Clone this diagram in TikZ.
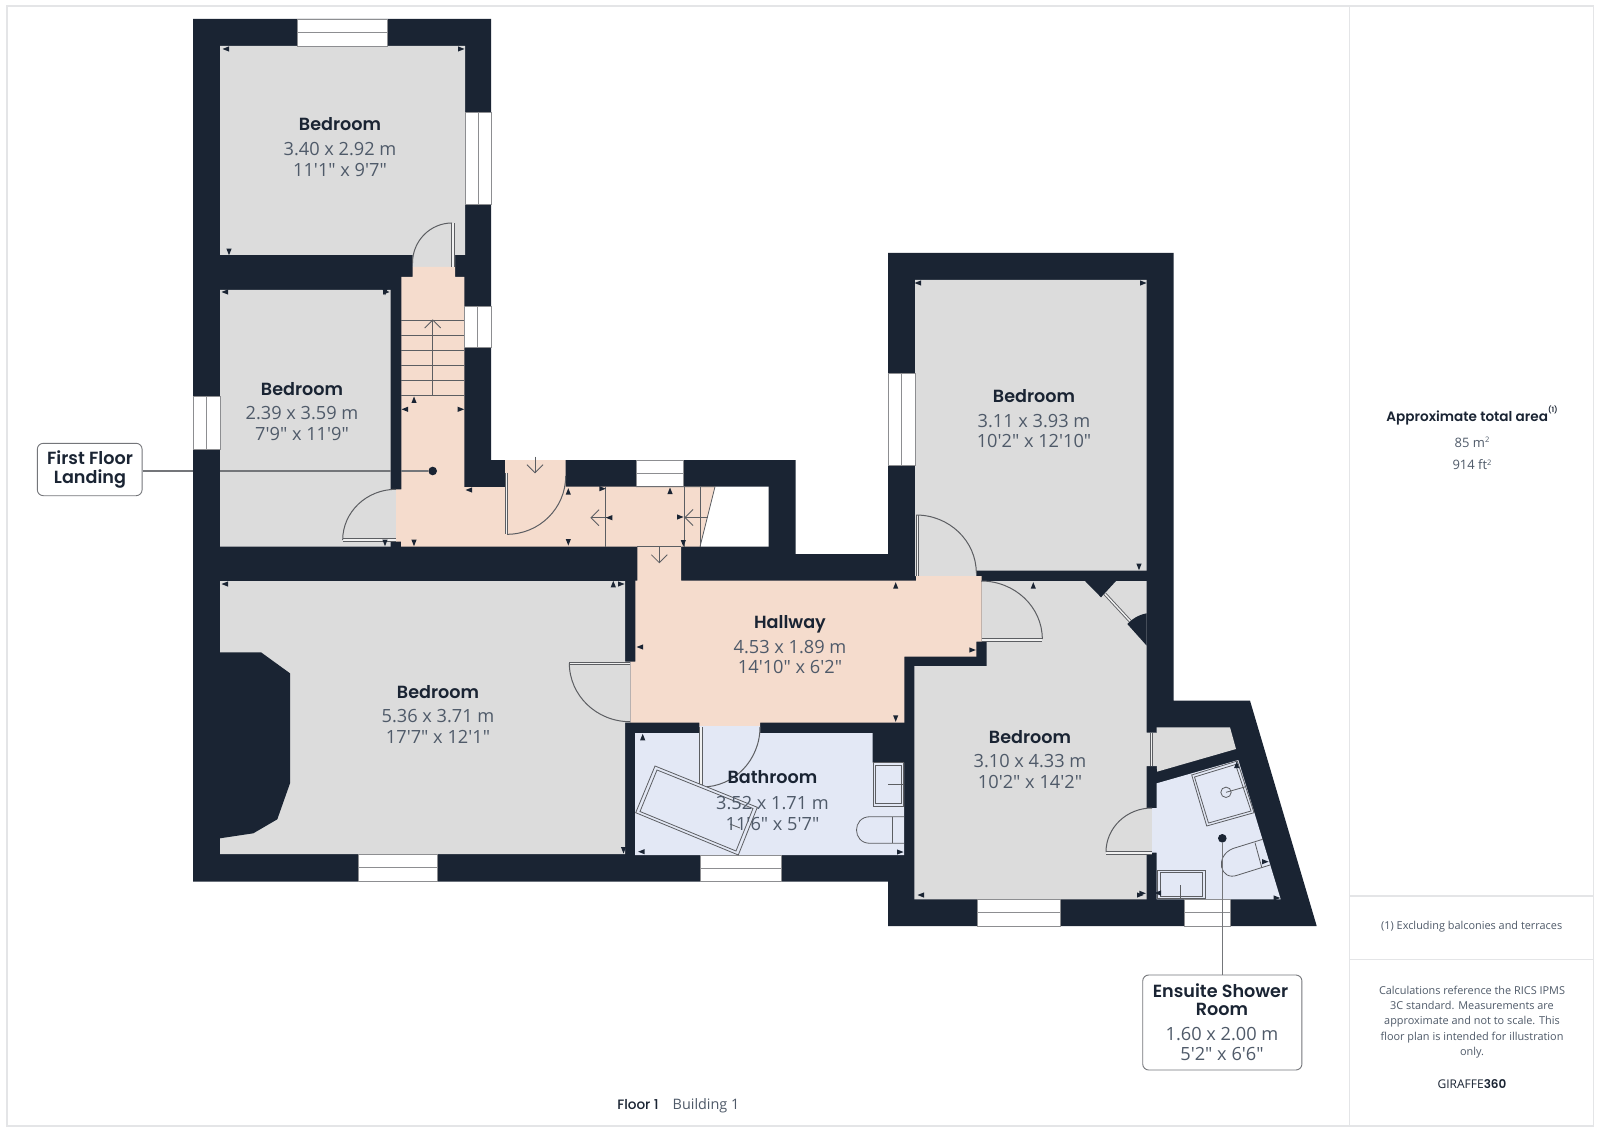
\documentclass[tikz,border=0pt]{standalone}
\usepackage{fontspec}
\setmainfont{Open Sans}
\newfontfamily\dm{Open Sans}
\newfontfamily\ttl{Poppins SemiBold}
\newfontfamily\med{Poppins Medium}
\definecolor{wall}{HTML}{1A2433}
\definecolor{gry}{HTML}{DCDCDC}
\definecolor{pnk}{HTML}{F5DCCD}
\definecolor{blu}{HTML}{E3E8F5}
\definecolor{ink}{HTML}{1A2433}
\definecolor{sub}{HTML}{4F5A69}
\definecolor{fix}{HTML}{5C5E62}
\definecolor{frm}{HTML}{E4E5E7}
\tikzset{
  x=0.5pt,y=-0.5pt,
  fixline/.style={draw=fix,line width=0.4pt},
  dbl/.style={draw=fix,double=white!60!gry,double distance=0.7pt,line width=0.45pt},
  winline/.style={draw=fix!70,line width=0.45pt,fill=white},
  title/.style={text=ink,font=\ttl\fontsize{8.8}{11}\selectfont,inner sep=0pt,anchor=center,text height=7pt,text depth=0pt},
  dims/.style={text=sub,font=\dm\fontsize{9.1}{11}\selectfont,inner sep=0pt,anchor=center,text height=7.6pt,text depth=0pt},
  small/.style={text=sub,font=\fontsize{6.5}{8}\selectfont,inner sep=0pt,anchor=center},
  note/.style={text=sub,font=\fontsize{5.45}{7}\selectfont,inner sep=0pt,anchor=center},
  callout/.style={draw=fix!85,line width=0.45pt,rounded corners=3pt,fill=white,inner sep=0pt},
  leader/.style={draw=fix!85,line width=0.7pt},
  pin/.style={circle,fill=wall,inner sep=0pt,minimum size=4.3pt},
}
% swing: centre, start offset, end offset
\newcommand\swing[6]{\draw[fixline,line width=0.5pt] ({#1+#3},{#2+#4}) .. controls ({#1+#3+0.552*#5},{#2+#4+0.552*#6}) and ({#1+#5+0.552*#3},{#2+#6+0.552*#4}) .. ({#1+#5},{#2+#6});}
% window: x1 y1 x2 y2, with mid line
\newcommand\winH[4]{\draw[winline] (#1,#2) rectangle (#3,#4); \draw[winline] (#1,{(#2+#4)/2}) -- (#3,{(#2+#4)/2});}
\newcommand\winV[4]{\draw[winline] (#1,#2) rectangle (#3,#4); \draw[winline] ({(#1+#3)/2},#2) -- ({(#1+#3)/2},#4);}
% dimension markers
\newcommand\mL[2]{\fill[wall] (#1-3.5,#2) -- (#1+3,#2-2.6) -- (#1+3,#2+2.6) -- cycle;}
\newcommand\mR[2]{\fill[wall] (#1+3.5,#2) -- (#1-3,#2-2.6) -- (#1-3,#2+2.6) -- cycle;}
\newcommand\mU[2]{\fill[wall] (#1,#2-3.5) -- (#1-2.6,#2+3) -- (#1+2.6,#2+3) -- cycle;}
\newcommand\mD[2]{\fill[wall] (#1,#2+3.5) -- (#1-2.6,#2-3) -- (#1+2.6,#2-3) -- cycle;}
% chevron arrows: U/D take x, y-from, y-to; L takes x-from, y, x-to
\newcommand\arrU[3]{\draw[fixline] (#1,#2) -- (#1,#3); \draw[fixline] (#1-8,#3+8) -- (#1,#3) -- (#1+8,#3+8);}
\newcommand\arrD[3]{\draw[fixline] (#1,#2) -- (#1,#3); \draw[fixline] (#1-8,#3-8) -- (#1,#3) -- (#1+8,#3-8);}
\newcommand\arrL[3]{\draw[fixline] (#1,#2) -- (#3,#2); \draw[fixline] (#3+8,#2-8) -- (#3,#2) -- (#3+8,#2+8);}
\begin{document}
\begin{tikzpicture}
\useasboundingbox (0,0) rectangle (1600,1128);
\fill[white] (0,0) rectangle (1600,1128);
% page frame
\draw[frm,line width=0.6pt] (7,6) rectangle (1593.5,1126);
\draw[frm,line width=0.6pt] (1349.5,6) -- (1349.5,1126);
\draw[frm,line width=0.6pt] (1349.5,896) -- (1593.5,896);
\draw[frm,line width=0.6pt] (1349.5,959.5) -- (1593.5,959.5);

% wall silhouette
\fill[wall] (193,19) -- (491,19) -- (491,460) -- (795.7,460) -- (795.7,554) -- (888,554) -- (888,253) -- (1173.5,253) -- (1173.5,700.7) -- (1250,700.7) -- (1316.7,926) -- (888,926) -- (888,881.7) -- (193,881.7) -- cycle;

% rooms
\fill[gry] (220,46) -- (465,46) -- (465,255) -- (455,255) -- (455,267) -- (412.5,267) -- (412.5,255) -- (220,255) -- cycle;
\fill[gry] (220,290) -- (390.7,290) -- (390.7,489.3) -- (396,489.3) -- (396,541.7) -- (390.7,541.7) -- (390.7,546.7) -- (220,546.7) -- cycle;
\fill[gry] (220,581) -- (625,581) -- (625,661.7) -- (630.5,661.7) -- (630.5,722.7) -- (625,722.7) -- (625,854) -- (220,854) -- cycle;
\fill[wall] (220,652.3) -- (261,652.3) -- (290,673.3) -- (290,783.3) -- (277.3,819.3) -- (253.3,833.3) -- (220,838.3) -- cycle;
\fill[gry] (915,280) -- (1146.7,280) -- (1146.7,570.7) -- (976.3,570.7) -- (976.3,576) -- (915,576) -- cycle;
\fill[gry] (981.7,581) -- (1146.7,581) -- (1146.7,732.7) -- (1157,732.7) -- (1157,766) -- (1146.7,766) -- (1146.7,808) -- (1152,808) -- (1152,852.7) -- (1146.7,852.7) -- (1146.7,899.3) -- (914.3,899.3) -- (914.3,666) -- (986.7,666) -- (986.7,641.7) -- (981.7,641.7) -- cycle;
\fill[gry] (1156.7,727.3) -- (1230,727.3) -- (1236,749) -- (1157,771.7) -- cycle;
% inner wall pieces of the lower right bedroom
\fill[wall] (1085,581) -- (1116,581) -- (1101,597.3) -- cycle;
\fill[wall] (1146.7,613.3) .. controls (1138,615) and (1132,619) .. (1127.3,624) -- (1146.7,645.7) -- cycle;

% hall and landing
\fill[pnk] (412.5,267) -- (455,267) -- (455,277) -- (464.3,277) -- (464.3,487) -- (505,487) -- (505,460) -- (565.7,460) -- (565.7,486.7) -- (715,486.7) -- (700,546.7) -- (681,546.7) -- (681,580.7) -- (916,580.7) -- (916,576) -- (981.7,576) -- (981.7,641.7) -- (976.3,641.7) -- (976.3,656.7) -- (904.3,656.7) -- (904.3,722.7) -- (760,722.7) -- (760,726) -- (699.3,726) -- (699.3,722.7) -- (630.5,722.7) -- (630.5,661.7) -- (635.3,661.7) -- (635.3,580.7) -- (637.3,580.7) -- (637.3,546.7) -- (401,546.7) -- (401,541.7) -- (396,541.7) -- (396,489.3) -- (401.3,489.3) -- (401.3,277) -- (412.5,277) -- cycle;
% stair void
\fill[white] (715,486.7) -- (768.7,486.7) -- (768.7,546.7) -- (700,546.7) -- cycle;

% bathroom and ensuite
\fill[blu] (635,733) -- (699.3,733) -- (699.3,726) -- (760,726) -- (760,733) -- (872.7,733) -- (872.7,762.7) -- (904,762.7) -- (904,855) -- (635,855) -- cycle;
\fill[blu] (1156.7,783.3) -- (1238.3,760) -- (1280.7,899.3) -- (1156.7,899.3) -- (1156.7,852.7) -- (1152,852.7) -- (1152,808) -- (1156.7,808) -- cycle;

% windows
\winH{297}{19}{387}{46}
\winV{465}{112}{491}{204}
\winV{464.3}{306.7}{491}{347.7}
\winV{193}{396}{220}{449.3}
\winH{636}{460}{683.3}{486.7}
\winV{888}{373.5}{915}{465.5}
\winH{358}{854}{437}{881.7}
\winH{700}{855}{781.7}{881.7}
\winH{977.5}{899.3}{1060}{926}
\winH{1184}{899.3}{1230.7}{926}

% stairs
\foreach \yy in {320,335,350,365.3,380.3,395.3} {\draw[fixline] (401.3,\yy) -- (464.3,\yy);}
\arrU{432.7}{395.3}{320}
\draw[fixline] (605.7,486.7) -- (605.7,546.7);
\draw[fixline] (684.7,486.7) -- (684.7,546.7);
\draw[fixline] (700,486.7) -- (700,546.7);
\draw[fixline] (636,486.7) -- (715,486.7) -- (700,546.7);
\draw[fixline] (637.3,546.7) -- (681,546.7);
\arrL{606.7}{517.7}{591}
\arrL{707.7}{517.5}{685}
\arrD{535}{456.7}{472.7}
\arrD{659.3}{547.3}{562.7}

% doors
\draw[dbl] (453,223.3) -- (453,266.7);
\swing{452}{263}{0}{-40}{-39.5}{0}
\draw[dbl] (342.7,540) -- (396,540);
\swing{396}{540}{-53.3}{0}{0}{-50.7}
\draw[dbl] (506.3,472.7) -- (506.3,534.3);
\swing{507}{476}{0}{58.3}{58.7}{0}
\draw[dbl] (569.3,663.5) -- (630,663.5);
\swing{630}{663}{-60.7}{0}{0}{58.7}
\draw[dbl] (701,727) -- (701,787);
\swing{702}{727}{0}{60}{58}{0}
\draw[dbl] (917.7,515) -- (917.7,576);
\swing{916}{573}{0}{-58}{60.3}{0}
\draw[dbl] (981.7,640) -- (1042.3,640);
\swing{981}{639}{61.3}{0}{0}{-58}
\draw[dbl] (1106,853) -- (1152,853);
\swing{1152}{852}{-46}{0}{0}{-44}
\draw[dbl] (1105,594) -- (1130,621);
\draw[dbl] (1151.5,732.7) -- (1151.5,766);

% bathroom fixtures
\draw[fixline,fill=blu] (655,766) -- (757.3,807.3) -- (738.3,855) -- (635.7,812.7) -- cycle;
\draw[fixline] (657,770) -- (753,808.5) -- (736,851) -- (640,811.5) -- cycle;
\draw[fixline] (730,824) -- (740,828);
\draw[fixline,fill=blu] (873.3,762.7) rectangle (903.3,806);
\draw[fixline] (875.8,765) rectangle (901,803.5);
\draw[fixline] (888.3,784) -- (903.3,784);
\draw[fixline] (904,816.7) -- (870,816.7) .. controls (852,816.7) and (852,843.3) .. (870,843.3) -- (904,843.3);
\draw[fixline] (892.7,816.7) -- (892.7,843.3);

% ensuite fixtures
\draw[fixline] (1191.7,775) -- (1237.3,761) -- (1254,812.7) -- (1206.7,826) -- cycle;
\draw[fixline] (1194.5,777) -- (1235.5,764.5) -- (1251,811) -- (1208.5,823) -- cycle;
\draw[fixline] (1226,792.3) circle[radius=5.2];
\draw[fixline] (1226,792.3) -- (1245.7,786.7);
\draw[fixline] (1262.7,839.3) -- (1233,848.5) .. controls (1214,856) and (1220,882) .. (1238,875) -- (1270,865);
\draw[fixline] (1255,842.7) -- (1261.7,867.3);
\draw[fixline] (1157.7,870) rectangle (1205,898.5);
\draw[fixline] (1160,872.3) rectangle (1202.8,896.5);
\draw[fixline] (1180.7,885) -- (1180.7,899);

% dimension markers
\mL{226}{49} \mR{461}{49} \mD{229}{251.7}
\mL{225}{292} \mR{386}{292} \mD{385}{292} \mD{385}{542.7}
\mU{414}{400} \mL{405}{409.3} \mR{460.7}{409.3} \mL{469}{490}
\mD{414}{542.7} \mD{568.3}{542} \mU{568.3}{491.7}
\mR{602.3}{488.7} \mL{609.3}{517.7} \mU{670}{491} \mR{680}{517} \mD{683.3}{543}
\mU{613.3}{584.3} \mR{621}{584} \mL{225}{584} \mD{623.5}{850}
\mU{895.7}{585.7} \mU{1033.3}{585.7} \mD{1139}{566.7} \mR{972.3}{650} \mL{640}{647}
\mL{918}{283} \mR{1143}{283}
\mD{895.7}{718.3}
\mU{642.7}{737.3} \mL{641.7}{851.7} \mR{900}{852}
\mR{1142.3}{893.3} \mL{1158}{893} \mU{1236.7}{765} \mR{1265}{861.7} \mR{1276.7}{898}
\mL{921}{895} \mR{1140}{895}

% room labels
\node[title] (t1) at (340,123.5) {Bedroom};
\node[dims] (d1a) at (340,148) {3.40 x 2.92 m};
\node[dims] (d1b) at (340,168.5) {11'1" x 9'7"};
\node[title] (t2) at (302,388) {Bedroom};
\node[dims] (d2a) at (302,412) {2.39 x 3.59 m};
\node[dims] (d2b) at (302,432.6) {7'9" x 11'9"};
\node[title] (t3) at (1034,395) {Bedroom};
\node[dims] (d3a) at (1034,419.5) {3.11 x 3.93 m};
\node[dims] (d3b) at (1034,440) {10'2" x 12'10"};
\node[title] (t4) at (438,691) {Bedroom};
\node[dims] (d4a) at (438,715) {5.36 x 3.71 m};
\node[dims] (d4b) at (438,736) {17'7" x 12'1"};
\node[title] (t5) at (790,621.5) {Hallway};
\node[dims] (d5a) at (790,646) {4.53 x 1.89 m};
\node[dims] (d5b) at (790,666) {14'10" x 6'2"};
\node[title] (t6) at (772.5,776.5) {Bathroom};
\node[dims] (d6a) at (772.5,802) {3.52 x 1.71 m};
\node[dims] (d6b) at (772.5,822.5) {11'6" x 5'7"};
\node[title] (t7) at (1030,736) {Bedroom};
\node[dims] (d7a) at (1030,760) {3.10 x 4.33 m};
\node[dims] (d7b) at (1030,780.6) {10'2" x 14'2"};

% callouts
\node[pin] (pinA) at (432.7,471) {};
\node[pin] (pinB) at (1222.3,838.3) {};
\node[callout,minimum width=52.4pt,minimum height=26.2pt] (boxA) at (89.7,469.5) {};
\node[callout,minimum width=79.6pt,minimum height=47.5pt] (boxB) at (1222.3,1022.5) {};
\draw[leader] (boxA.east |- pinA) -- (pinA);
\draw[leader] (pinB) -- (pinB |- boxB.north);
\fill[wall] (193,468.5) rectangle (220,473);
\fill[wall] (390.7,468.5) rectangle (401.3,473);
\node[title] (ca1) at (90,458) {First Floor};
\node[title] (ca2) at (90,476.5) {Landing};
\node[title] (cb1) at (1220.5,990) {Ensuite Shower};
\node[title] (cb2) at (1222,1008.5) {Room};
\node[dims] (cb3) at (1222,1032.6) {1.60 x 2.00 m};
\node[dims] (cb4) at (1222,1053) {5'2" x 6'6"};

% side panel
\node[inner sep=0pt,text=ink,font=\ttl\fontsize{6.8}{9}\selectfont] (s1) at (1472,415.5) {Approximate total area\raisebox{1.1ex}{\fontsize{3.6}{4}\selectfont (1)}};
\node[small] (s2) at (1472,442.3) {85 m\raisebox{0.6ex}{\fontsize{3.8}{4}\selectfont 2}};
\node[small] (s3) at (1472,465) {914 ft\raisebox{0.6ex}{\fontsize{3.8}{4}\selectfont 2}};
\node[note] (s4) at (1471.7,926.7) {(1) Excluding balconies and terraces};
\node[note] (s5) at (1472,990) {Calculations reference the RICS IPMS};
\node[note] (s6) at (1472,1005.7) {3C standard. Measurements are};
\node[note] (s7) at (1472,1021.5) {approximate and not to scale. This};
\node[note] (s8) at (1472,1037.3) {floor plan is intended for illustration};
\node[note] (s9) at (1472,1053) {only.};
\node[inner sep=0pt,text=ink,font=\fontsize{6}{8}\selectfont] (s10) at (1472,1084.5) {GIRAFFE{\ttl 360}};
\node[inner sep=0pt,text=ink,font=\med\fontsize{6.8}{9}\selectfont,text height=5pt,text depth=0pt] (f1) at (638,1104.5) {Floor 1};
\node[inner sep=0pt,text=sub,font=\fontsize{7.2}{9}\selectfont,text height=5pt,text depth=0pt] (f2) at (706,1104.5) {Building 1};
\end{tikzpicture}
\end{document}
